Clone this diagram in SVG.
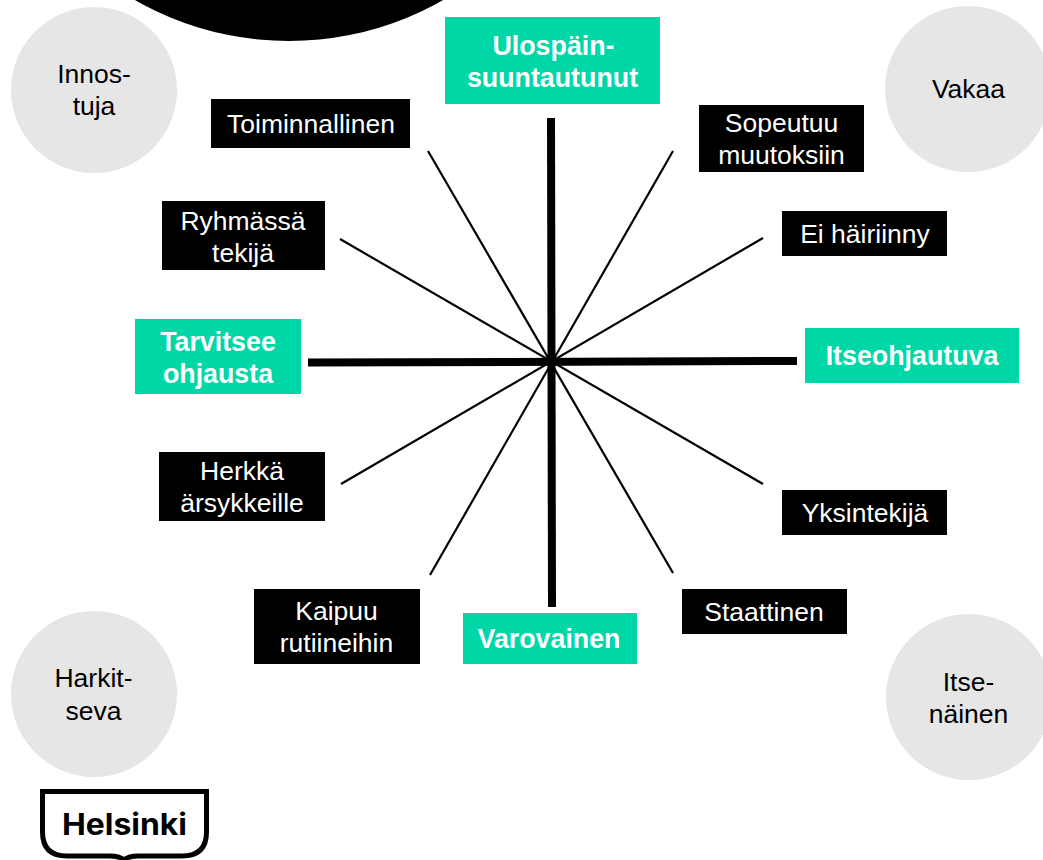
<svg xmlns="http://www.w3.org/2000/svg" width="1043" height="860" viewBox="0 0 1043 860">
<style>
text{font-family:"Liberation Sans",Arial,sans-serif;font-size:26.5px;text-anchor:middle}
.b{fill:#000}
.w{fill:#fff}
.g{fill:#00d7a7}
.gt{fill:#fff;font-weight:bold;font-size:26.8px}
.c{fill:#e6e6e6}
.k{fill:#000}
.thin{stroke:#000;stroke-width:2.2;fill:none}
.thick{stroke:#000;stroke-width:8;fill:none}
text.logo{font-family:Inter,Roboto,"Liberation Sans",sans-serif;font-size:30px;font-weight:700;fill:#000}
</style>
<rect width="1043" height="860" fill="#fff"/>
<circle id="top-shape" cx="289" cy="-269" r="310" class="b"/>
<g id="connectors">
<line class="thin" x1="428" y1="151" x2="673" y2="573"/>
<line class="thin" x1="673" y1="151" x2="430" y2="575"/>
<line class="thin" x1="340" y1="239" x2="763" y2="484"/>
<line class="thin" x1="763" y1="238" x2="341" y2="484"/>
<line class="thick" x1="551" y1="118" x2="552" y2="607"/>
<line class="thick" x1="308" y1="362.500" x2="797" y2="361"/>
</g>
<g id="innostuja"><circle class="c" cx="94" cy="90" r="83"/><text class="k" x="94" y="83">Innos-</text><text class="k" x="94" y="115">tuja</text></g>
<g id="vakaa"><circle class="c" cx="968" cy="89" r="83"/><text class="k" x="968.500" y="98">Vakaa</text></g>
<g id="harkitseva"><circle class="c" cx="94" cy="694" r="83"/><text class="k" x="93.500" y="687">Harkit-</text><text class="k" x="93.500" y="720">seva</text></g>
<g id="itsenainen"><circle class="c" cx="969" cy="697" r="83"/><text class="k" x="968.500" y="691">Itse-</text><text class="k" x="968.500" y="723">näinen</text></g>
<g id="ulospain"><rect class="g" x="445" y="17" width="215" height="87"/><text class="gt" x="553.500" y="55">Ulospäin-</text><text class="gt" x="552.500" y="87">suuntautunut</text></g>
<g id="tarvitsee"><rect class="g" x="135" y="319" width="166" height="75"/><text class="gt" x="218" y="351">Tarvitsee</text><text class="gt" x="218" y="383">ohjausta</text></g>
<g id="itseohjautuva"><rect class="g" x="805" y="328" width="214" height="55"/><text class="gt" x="912" y="365">Itseohjautuva</text></g>
<g id="varovainen"><rect class="g" x="463" y="613" width="174" height="51"/><text class="gt" x="549" y="648">Varovainen</text></g>
<g id="toiminnallinen"><rect class="b" x="211" y="99" width="199" height="49"/><text class="w" x="311" y="133">Toiminnallinen</text></g>
<g id="sopeutuu"><rect class="b" x="699" y="105" width="165" height="67"/><text class="w" x="781.500" y="132">Sopeutuu</text><text class="w" x="781.500" y="164">muutoksiin</text></g>
<g id="ryhmassa"><rect class="b" x="162" y="201" width="163" height="69"/><text class="w" x="243" y="230">Ryhmässä</text><text class="w" x="243" y="262">tekijä</text></g>
<g id="ei-hairiinny"><rect class="b" x="782" y="211" width="165" height="45"/><text class="w" x="865" y="243">Ei häiriinny</text></g>
<g id="herkka"><rect class="b" x="159" y="452" width="166" height="69"/><text class="w" x="242" y="480">Herkkä</text><text class="w" x="242" y="512">ärsykkeille</text></g>
<g id="yksintekija"><rect class="b" x="782" y="490" width="165" height="45"/><text class="w" x="865" y="522">Yksintekijä</text></g>
<g id="kaipuu"><rect class="b" x="254" y="589" width="166" height="75"/><text class="w" x="336.500" y="620">Kaipuu</text><text class="w" x="336.500" y="652">rutiineihin</text></g>
<g id="staattinen"><rect class="b" x="682" y="589" width="165" height="45"/><text class="w" x="764" y="621">Staattinen</text></g>
<g id="helsinki-logo"><path d="M42.500 791.500H206.500V832Q206.500 856 182 856H138Q128 856 124 860Q120 856 110 856H67Q42.500 856 42.500 832Z" fill="#fff" stroke="#000" stroke-width="5"/><text class="logo" x="124.500" y="835" textLength="125" lengthAdjust="spacingAndGlyphs">Helsinki</text></g>
</svg>
